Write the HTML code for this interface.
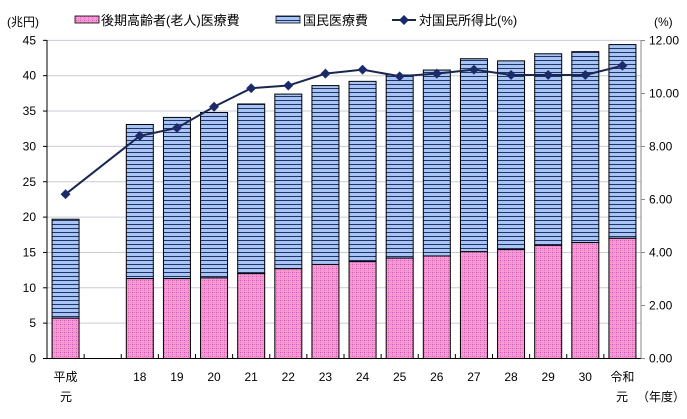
<!DOCTYPE html>
<html><head><meta charset="utf-8"><style>
html,body{margin:0;padding:0;background:#fff;}
svg text{font-family:"Liberation Sans","Noto Sans CJK JP",sans-serif;fill:#000;}
</style></head><body>
<svg id="c" width="687" height="414" xmlns="http://www.w3.org/2000/svg">
<defs>
<pattern id="pk" width="4" height="4" patternUnits="userSpaceOnUse">
<rect width="4" height="4" fill="#f79ad4"/>
<rect x="0" y="0" width="1" height="1" fill="#c858b0"/>
<rect x="2" y="0" width="1" height="1" fill="#e070c0"/>
<rect x="0" y="2" width="1" height="1" fill="#e070c0"/>
</pattern>
<pattern id="bl" width="4" height="4" patternUnits="userSpaceOnUse">
<rect width="4" height="4" fill="#a8c4f4"/>
<rect x="0" y="0" width="4" height="1" fill="#203468"/>
</pattern>
</defs>
</svg>
<script>
var s=document.getElementById('c'),h='';
function Y(v){return 358.5-v*7.07;}
function YR(v){return 358.5-v*(318/12);}
var L=47,R=641,sw=(R-L)/16;
for(var i=1;i<=9;i++){var y=Y(i*5);h+='<line x1="'+L+'" x2="'+R+'" y1="'+y+'" y2="'+y+'" stroke="#c8ccd4" stroke-width="1"/>';}
var labs=['平成','','18','19','20','21','22','23','24','25','26','27','28','29','30','令和'];
var tot=[19.7,null,33.1,34.1,34.8,36.0,37.4,38.6,39.2,40.1,40.8,42.4,42.1,43.1,43.4,44.4];
var pk=[5.7,null,11.3,11.3,11.4,12.0,12.7,13.3,13.7,14.2,14.5,15.1,15.4,16.0,16.4,17.0];
var r=[6.2,null,8.4,8.7,9.5,10.2,10.3,10.75,10.9,10.65,10.75,10.9,10.7,10.7,10.7,11.05];
var pts=[];
for(var i=0;i<16;i++){
 var cx=L+sw*(i+0.5);
 if(tot[i]!=null){
  var x=cx-13.5;
  h+='<rect x="'+x+'" y="'+Y(tot[i])+'" width="27" height="'+(Y(pk[i])-Y(tot[i]))+'" fill="url(#bl)" stroke="#000" stroke-width="1"/>';
  h+='<rect x="'+x+'" y="'+Y(pk[i])+'" width="27" height="'+(358.5-Y(pk[i]))+'" fill="url(#pk)" stroke="#000" stroke-width="1"/>';
  pts.push([cx,YR(r[i])]);
 }
 if(labs[i])h+='<text x="'+cx+'" y="381" font-size="12" text-anchor="middle">'+labs[i]+'</text>';
 h+='<line x1="'+(L+sw*(i+1))+'" x2="'+(L+sw*(i+1))+'" y1="358.5" y2="354" stroke="#000"/>';
}
h+='<text x="66" y="401" font-size="12" text-anchor="middle">元</text>';
h+='<text x="622" y="401" font-size="12" text-anchor="middle">元</text>';
h+='<text x="637" y="401" font-size="12">（年度）</text>';
h+='<polyline fill="none" stroke="#1a2650" stroke-width="2" points="'+pts.map(function(p){return p.join(',')}).join(' ')+'"/>';
pts.forEach(function(p){h+='<rect x="'+(p[0]-3.5)+'" y="'+(p[1]-3.5)+'" width="7" height="7" fill="#1a2a6a" transform="rotate(45 '+p[0]+' '+p[1]+')"/>';});
h+='<line x1="'+L+'" x2="'+L+'" y1="40" y2="358.5" stroke="#000"/>';
h+='<line x1="'+L+'" x2="'+R+'" y1="358.5" y2="358.5" stroke="#000"/>';
h+='<line x1="'+R+'" x2="'+R+'" y1="40" y2="358.5" stroke="#888"/>';
for(var i=0;i<=9;i++){var y=Y(i*5);h+='<text x="36" y="'+(y+4)+'" font-size="12" text-anchor="end">'+(i*5)+'</text><line x1="43" x2="47" y1="'+y+'" y2="'+y+'" stroke="#000"/>';}
for(var i=0;i<=6;i++){var y=YR(i*2);h+='<text x="649" y="'+(y+4)+'" font-size="12">'+(i*2).toFixed(2)+'</text><line x1="'+R+'" x2="'+(R+4)+'" y1="'+y+'" y2="'+y+'" stroke="#888"/>';}
h+='<text x="7" y="26" font-size="12">(兆円)</text>';
h+='<text x="654" y="26" font-size="12">(%)</text>';
h+='<rect x="75" y="16" width="24" height="7" fill="url(#pk)" stroke="#000" stroke-width="0.8"/><text x="101" y="25" font-size="13">後期高齢者(老人)医療費</text>';
h+='<rect x="276" y="16" width="24" height="7" fill="url(#bl)" stroke="#000" stroke-width="0.8"/><text x="303" y="25" font-size="13">国民医療費</text>';
h+='<line x1="392" x2="416" y1="20" y2="20" stroke="#1a2650" stroke-width="2"/><rect x="400.5" y="16.5" width="7" height="7" fill="#1a2a6a" transform="rotate(45 404 20)"/><text x="419" y="25" font-size="13">対国民所得比(%)</text>';
s.insertAdjacentHTML('beforeend',h);
</script>
</body></html>
